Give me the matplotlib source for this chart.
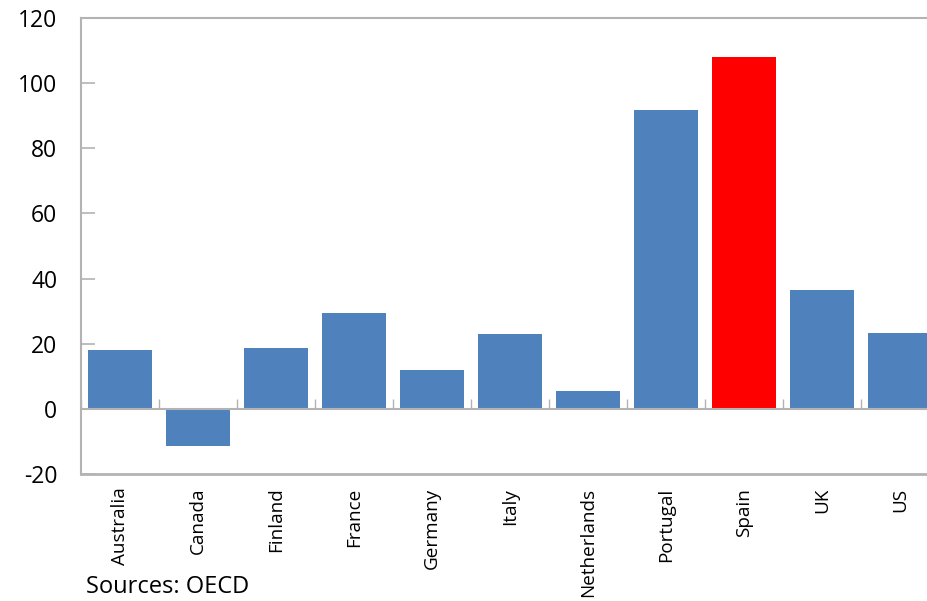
import numpy as np
import matplotlib.pyplot as plt
from matplotlib.transforms import blended_transform_factory

plt.rcParams['font.family'] = ['Open Sans', 'DejaVu Sans']
plt.rcParams['axes.unicode_minus'] = False

countries = ['Australia', 'Canada', 'Finland', 'France', 'Germany', 'Italy',
             'Netherlands', 'Portugal', 'Spain', 'UK', 'US']
values = [18.1, -11.4, 18.7, 29.5, 12.0, 23.0, 5.5, 91.8, 108.0, 36.5, 23.3]
highlight = 'Spain'

blue = '#4F81BD'
red = '#FF0000'
grey = '#B3B3B3'

fig = plt.figure(figsize=(9.28, 6.01), dpi=100)
W, H = 928, 601
ax = fig.add_axes([81 / W, 1 - 474 / H, (939 - 81) / W, (474 - 18) / H])

x = np.arange(len(countries))
colors = [red if c == highlight else blue for c in countries]
ax.bar(x, values, width=0.82, color=colors, zorder=2)

ax.set_xlim(-0.5, len(countries) - 0.5)
ax.set_ylim(-20, 120)
ax.set_yticks(np.arange(-20, 121, 20))
ax.tick_params(axis='y', direction='in', length=10, width=1.2, color=grey,
               labelsize=16.5, pad=17)

# zero line acts as the category axis
ax.spines['bottom'].set_position(('data', 0))
ax.spines['bottom'].set_color(grey)
ax.spines['bottom'].set_linewidth(1.5)
ax.spines['bottom'].set_zorder(3)
ax.set_xticks(np.arange(len(countries) + 1) - 0.5)
ax.tick_params(axis='x', direction='in', length=7, width=1, color=grey,
               labelbottom=False)
ax.spines['left'].set_color(grey)
ax.spines['left'].set_linewidth(1.5)
ax.spines['right'].set_visible(False)
ax.spines['top'].set_color(grey)
ax.spines['top'].set_linewidth(1.5)
ax.axhline(-20, color=grey, lw=2, clip_on=False, zorder=3)

trans = blended_transform_factory(ax.transData, ax.transAxes)
for i, c in enumerate(countries):
    ax.text(i, -0.03, c, transform=trans, rotation=90, ha='center', va='top',
            fontsize=13.6)

fig.text(86 / W, 1 - 593 / H, 'Sources: OECD', fontsize=17, ha='left',
         va='baseline')

fig.savefig('out.png', dpi=100)
